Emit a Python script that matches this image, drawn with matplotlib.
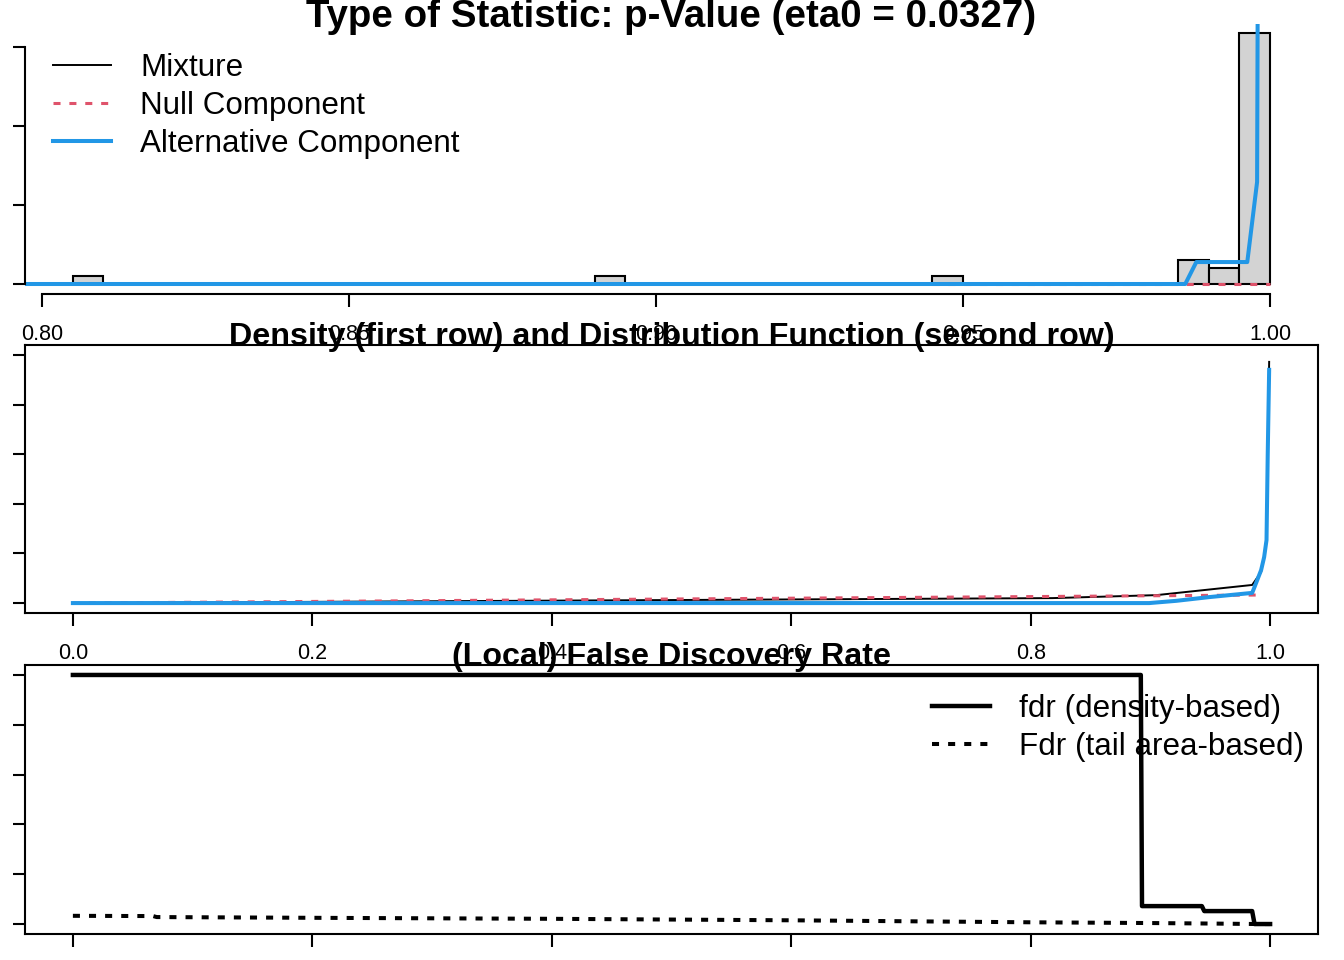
import matplotlib
matplotlib.use("Agg")
import matplotlib.pyplot as plt

plt.rcParams['font.family'] = ['Liberation Sans', 'DejaVu Sans']

RED = '#DF536B'
BLUE = '#2297E6'

eta0 = 0.0327

# histogram of the p-values (bin width 0.005)
bin_left = [0.805, 0.890, 0.945, 0.985, 0.990, 0.995]
bin_counts = [1, 1, 1, 3, 2, 31]
bin_width = 0.005
n_total = sum(bin_counts)
bin_density = [c / (n_total * bin_width) for c in bin_counts]

# densities (top panel)
dens_alt_x = [0.79, 0.9862, 0.9880, 0.9963, 0.9979, 0.9981]
dens_alt_y = [0.0, 0.0, 13.9, 13.9, 64.6, 300.0]
dens_null_x = [0.945, 1.0]
dens_null_y = [0.0327, 0.0327]

# distribution functions (middle panel)
cdf_null_x = [0.0, 0.99]
cdf_null_y = [0.0, 0.0324]
cdf_mix_x = [0.0, 0.818, 0.905, 0.985, 0.9925, 0.995, 0.997, 0.998, 0.9992]
cdf_mix_y = [0.0, 0.020, 0.032, 0.073, 0.125, 0.190, 0.260, 0.600, 0.972]
cdf_alt_x = [0.0, 0.899, 0.9215, 0.949, 0.985, 0.9866, 0.9925, 0.995, 0.997, 0.998, 0.9992]
cdf_alt_y = [0.0, 0.0, 0.009, 0.024, 0.041, 0.060, 0.133, 0.185, 0.254, 0.597, 0.940]

# false discovery rates (bottom panel)
fdr_x = [0.0, 0.892, 0.893, 0.943, 0.945, 0.985, 0.987, 1.0]
fdr_y = [1.0, 1.0, 0.072, 0.072, 0.052, 0.052, 0.0, 0.0]
Fdr_x = [0.0, 0.067, 0.07, 0.2, 0.3, 0.4, 0.5, 0.6, 0.7, 0.8, 0.9, 0.95, 0.99, 1.0]
Fdr_y = [0.033, 0.032, 0.028, 0.025, 0.023, 0.021, 0.018, 0.015, 0.011, 0.007, 0.004, 0.002, 0.0, 0.0]

W, H = 1344, 960
fig = plt.figure(figsize=(W / 100, H / 100), dpi=100)


def px_axes(x0, y0, x1, y1):
    return fig.add_axes([x0 / W, 1 - y1 / H, (x1 - x0) / W, (y1 - y0) / H])


def style(ax):
    for s in ax.spines.values():
        s.set_linewidth(1.5)
    ax.tick_params(direction='out', length=9, width=1.5, pad=12.8,
                   labelsize=15.5, labelleft=False)


red_dot = (0, (2.3, 2.9))
blk_dot = (0, (1.75, 2.25))
leg_kw = dict(bbox_transform=fig.transFigure, frameon=False, fontsize=22.6,
              borderpad=0, borderaxespad=0, handlelength=1.85,
              handletextpad=0.92, labelspacing=0.25)

# ---- top panel: histogram ----
ax1 = px_axes(25, 24, 1318, 294)
style(ax1)
ax1.bar(bin_left, bin_density, width=bin_width, align='edge',
        color='#D3D3D3', edgecolor='black', linewidth=1.5)
ax1.plot(dens_null_x, dens_null_y, color=RED, lw=2.2, ls=red_dot)
ax1.plot(dens_alt_x, dens_alt_y, color='black', lw=1.4, label='Mixture')
ax1.plot([], [], color=RED, lw=2.2, ls=red_dot, label='Null Component')
ax1.plot(dens_alt_x, dens_alt_y, color=BLUE, lw=2.9, label='Alternative Component')
ax1.set_xlim(0.79723, 1.00782)
ax1.set_ylim(-6.33, 164.6)
ax1.set_xticks([0.80, 0.85, 0.90, 0.95, 1.00])
ax1.set_xticklabels(['0.80', '0.85', '0.90', '0.95', '1.00'])
ax1.set_yticks([0, 50, 100, 150])
ax1.spines['top'].set_visible(False)
ax1.spines['right'].set_visible(False)
ax1.spines['bottom'].set_bounds(0.80, 1.00)
ax1.spines['left'].set_bounds(0, 150)
ax1.legend(loc='upper left', bbox_to_anchor=(53 / W, 1 - 53 / H), **leg_kw)
fig.text(671.5 / W, 1 - 27 / H, 'Type of Statistic: p-Value (eta0 = 0.0327)',
         ha='center', va='baseline', fontsize=27.7, fontweight='bold')

# ---- middle panel: distribution functions ----
ax2 = px_axes(25, 345, 1318, 613)
style(ax2)
ax2.plot(cdf_mix_x, cdf_mix_y, color='black', lw=1.4)
ax2.plot(cdf_null_x, cdf_null_y, color=RED, lw=2.2, ls=red_dot)
ax2.plot(cdf_alt_x, cdf_alt_y, color=BLUE, lw=2.9)
ax2.set_xlim(-0.04, 1.04)
ax2.set_ylim(-0.04, 1.04)
ax2.set_xticks([0.0, 0.2, 0.4, 0.6, 0.8, 1.0])
ax2.set_xticklabels(['0.0', '0.2', '0.4', '0.6', '0.8', '1.0'])
ax2.set_yticks([0.0, 0.2, 0.4, 0.6, 0.8, 1.0])
fig.text(671.5 / W, 1 - 345 / H,
         'Density (first row) and Distribution Function (second row)',
         ha='center', va='baseline', fontsize=23.2, fontweight='bold')

# ---- bottom panel: fdr ----
ax3 = px_axes(25, 665, 1318, 934)
style(ax3)
ax3.plot(fdr_x, fdr_y, color='black', lw=3.2, label='fdr (density-based)')
ax3.plot(Fdr_x, Fdr_y, color='black', lw=2.9, ls=blk_dot, label='Fdr (tail area-based)')
ax3.set_xlim(-0.04, 1.04)
ax3.set_ylim(-0.04, 1.04)
ax3.set_xticks([0.0, 0.2, 0.4, 0.6, 0.8, 1.0])
ax3.set_yticks([0.0, 0.2, 0.4, 0.6, 0.8, 1.0])
ax3.tick_params(labelbottom=False)
ax3.legend(loc='upper left', bbox_to_anchor=(932 / W, 1 - 694 / H), **leg_kw)
fig.text(671.5 / W, 1 - 665 / H, '(Local) False Discovery Rate',
         ha='center', va='baseline', fontsize=23.2, fontweight='bold')

fig.savefig('out.png', dpi=100)
